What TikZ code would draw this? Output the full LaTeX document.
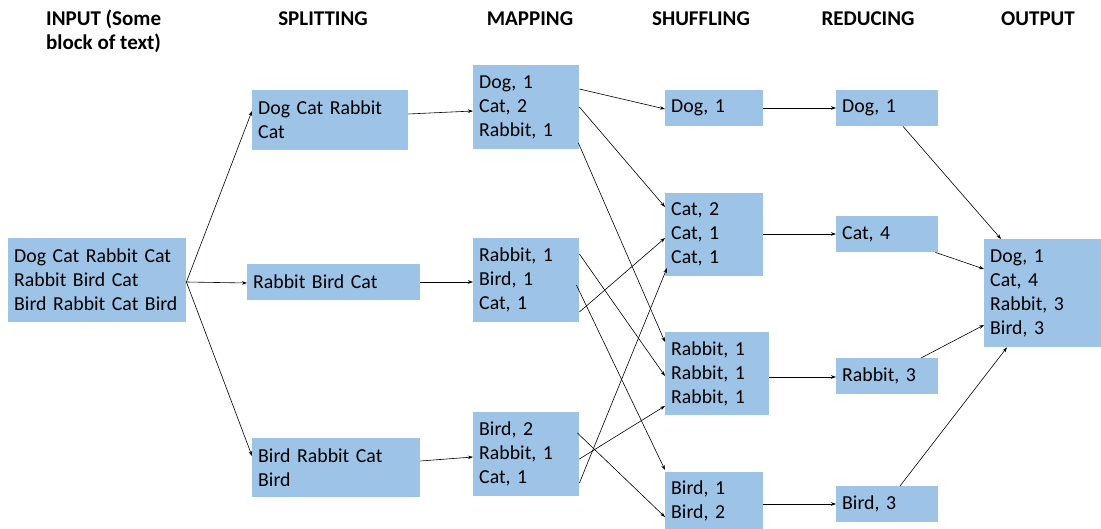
\documentclass[tikz,border=0pt]{standalone}
\usepackage{fontspec}
\setmainfont{Carlito}
\usetikzlibrary{arrows.meta,calc}
\definecolor{boxblue}{HTML}{9DC3E6}
\begin{document}
\begin{tikzpicture}[x=1pt,y=-1pt,
  box/.style={fill=boxblue, draw=none, inner xsep=6pt, inner ysep=0pt, align=left,
    font=\fontsize{19.8}{24}\selectfont, anchor=north west},
  hdr/.style={font=\fontsize{21}{24}\selectfont\bfseries, inner sep=0pt},
  arr/.style={-{Stealth[length=5pt,width=3.5pt]}, line width=0.6pt}]
\useasboundingbox (0,0) rectangle (1101,529);
% headers
\node[hdr, anchor=west, align=left] (h0) at (46,31) {INPUT (Some\\block of text)};
\node[hdr] (h1) at (323,19) {SPLITTING};
\node[hdr] (h2) at (530,19) {MAPPING};
\node[hdr] (h3) at (701,19) {SHUFFLING};
\node[hdr] (h4) at (868,19) {REDUCING};
\node[hdr] (h5) at (1038,19) {OUTPUT};
% boxes: position at north west, size via minimum width/height
\newcommand{\bx}[6]{\node[box, minimum width=#4, minimum height=#5, text width=#4-12] (#1) at (#2,#3) {#6};}
\bx{in}{8}{238}{178}{84}{Dog Cat Rabbit Cat\\Rabbit Bird Cat\\Bird Rabbit Cat Bird}
\bx{s1}{252}{90}{156}{60}{Dog Cat Rabbit\\Cat}
\bx{s2}{247}{264}{173}{36}{Rabbit Bird Cat}
\bx{s3}{252}{438}{168}{59}{Bird Rabbit Cat\\Bird}
\bx{m1}{473}{65}{106}{84}{Dog, 1\\Cat, 2\\Rabbit, 1}
\bx{m2}{473}{238}{106}{84}{Rabbit, 1\\Bird, 1\\Cat, 1}
\bx{m3}{473}{412}{106}{84}{Bird, 2\\Rabbit, 1\\Cat, 1}
\bx{f1}{665}{90}{98}{36}{Dog, 1}
\bx{f2}{665}{193}{98}{83}{Cat, 2\\Cat, 1\\Cat, 1}
\bx{f3}{665}{332}{104}{83}{Rabbit, 1\\Rabbit, 1\\Rabbit, 1}
\bx{f4}{665}{472}{98}{58}{Bird, 1\\Bird, 2}
\bx{r1}{836}{90}{102}{36}{Dog, 1}
\bx{r2}{836}{216}{102}{36}{Cat, 4}
\bx{r3}{836}{358}{102}{36}{Rabbit, 3}
\bx{r4}{836}{486}{102}{36}{Bird, 3}
\bx{out}{984}{239}{117}{108}{Dog, 1\\Cat, 4\\Rabbit, 3\\Bird, 3}
% splitting
\draw[arr] (in.east |- 0,282) -- (s1.west |- 0,111);
\draw[arr] (in.east |- 0,282) -- (s2.west |- 0,283);
\draw[arr] (in.east |- 0,282) -- (s3.west |- 0,456);
% mapping
\draw[arr] (s1.east |- 0,114) -- (m1.west |- 0,111);
\draw[arr] (s2.east |- 0,282) -- (m2.west |- 0,282);
\draw[arr] (s3.east |- 0,461) -- (m3.west |- 0,457);
% shuffling
\draw[arr] (m1.east |- 0,89) -- (f1.west |- 0,109);
\draw[arr] (m1.east |- 0,107) -- (f2.west |- 0,207);
\draw[arr] ([xshift=-1pt]m1.east |- 0,143) -- (f3.west |- 0,342);
\draw[arr] (m2.east |- 0,312) -- (f2.west |- 0,238);
\draw[arr] (m2.east |- 0,254) -- (f3.west |- 0,376);
\draw[arr] ([xshift=-3pt]m2.east |- 0,285) -- (f4.west |- 0,470);
\draw[arr] (m3.east |- 0,483) -- ([xshift=2pt]f2.west |- 0,268);
\draw[arr] (m3.east |- 0,459) -- (f3.west |- 0,406);
\draw[arr] ([xshift=-2pt]m3.east |- 0,433) -- (f4.west |- 0,517);
% reducing
\draw[arr] (f1.east |- 0,108) -- (r1.west |- 0,108);
\draw[arr] (f2.east |- 0,234) -- (r2.west |- 0,234);
\draw[arr] (f3.east |- 0,377) -- (r3.west |- 0,377);
\draw[arr] (f4.east |- 0,504) -- (r4.west |- 0,504);
% output
\draw[arr] (903,0 |- r1.south) -- (1001,0 |- out.north);
\draw[arr] ([xshift=-3pt]r2.south east) -- (out.west |- 0,269);
\draw[arr] (921,0 |- r3.north) -- (out.west |- 0,325);
\draw[arr] (900,0 |- r4.north) -- (1007,0 |- out.south);
\end{tikzpicture}
\end{document}
